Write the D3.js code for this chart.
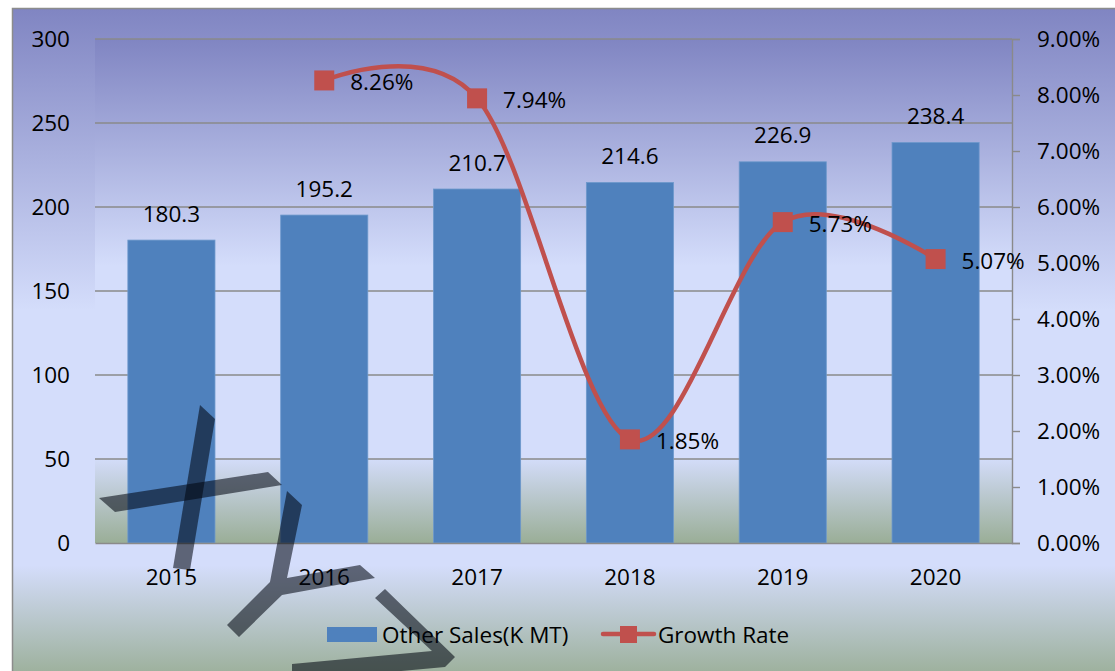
<!DOCTYPE html>
<html lang="en">
<head>
    <meta charset="UTF-8">
    <title>Other Sales and Growth Rate</title>
    <script src="https://d3js.org/d3.v7.min.js"></script>
    <style>
        body { margin: 0; background: #fff; }
        svg text { font-family: "Open Sans", "DejaVu Sans", sans-serif; font-size: 22.5px; fill: #000; }
    </style>
</head>
<body>
<div id="chart"></div>
<script type="text/javascript">
    // chart data
    const years = ["2015", "2016", "2017", "2018", "2019", "2020"];
    const sales = [180.3, 195.2, 210.7, 214.6, 226.9, 238.4];
    const growth = [null, 0.0826, 0.0794, 0.0185, 0.0573, 0.0507];
    const leftTicks = [0, 50, 100, 150, 200, 250, 300];
    const rightTicks = [0, 0.01, 0.02, 0.03, 0.04, 0.05, 0.06, 0.07, 0.08, 0.09];
    const seriesNames = ["Other Sales(K MT)", "Growth Rate"];

    // watermark strokes (decoration, not data)
    const watermark = [
        [[200,405],[215,419],[190,570],[173,568]],
        [[99,498],[115,512],[282,485],[268,472]],
        [[287,491],[302,505],[287,578],[360,565],[375,578],[282,595],[239,637],[227,625],[270,582]],
        [[385,589],[455,657],[445,667],[292,681],[292,664],[432,651],[375,598]]
    ];

    const W = 1115, H = 671;
    const plot = {left: 95, right: 1012, top: 39, bottom: 543};
    const blue = "#4f81bd", red = "#c0504d", grid = "#8a8a8a";

    const svg = d3.select("#chart").append("svg")
        .attr("width", W).attr("height", H);

    const defs = svg.append("defs");
    function bgGradient(id) {
        const g = defs.append("linearGradient").attr("id", id)
            .attr("x1", 0).attr("y1", 0).attr("x2", 0).attr("y2", 1);
        g.append("stop").attr("offset", "0%").attr("stop-color", "#8085c2");
        g.append("stop").attr("offset", "45%").attr("stop-color", "#d4ddfb");
        g.append("stop").attr("offset", "83%").attr("stop-color", "#d4ddfb");
        g.append("stop").attr("offset", "100%").attr("stop-color", "#9aae97");
    }
    bgGradient("chartBg");
    bgGradient("plotBg");

    // chart area
    svg.append("rect")
        .attr("x", 12.5).attr("y", 8.5)
        .attr("width", W).attr("height", H)
        .attr("fill", "url(#chartBg)")
        .attr("stroke", "#8c8c8c").attr("stroke-width", 1.5);

    // plot area
    svg.append("rect")
        .attr("x", plot.left).attr("y", plot.top)
        .attr("width", plot.right - plot.left).attr("height", plot.bottom - plot.top)
        .attr("fill", "url(#plotBg)");

    const x = d3.scaleBand().domain(years)
        .range([plot.left, plot.right])
        .paddingInner(0.43).paddingOuter(0.215);
    const y = d3.scaleLinear().domain([0, 300]).range([plot.bottom, plot.top]);
    const y2 = d3.scaleLinear().domain([0, 0.09]).range([plot.bottom, plot.top]);

    // gridlines
    svg.append("g").selectAll("line")
        .data(leftTicks.filter(d => d > 0))
        .join("line")
        .attr("x1", plot.left).attr("x2", plot.right)
        .attr("y1", d => y(d)).attr("y2", d => y(d))
        .attr("stroke", grid).attr("stroke-width", 1.4);

    // bars
    svg.append("g").selectAll("rect")
        .data(sales)
        .join("rect")
        .attr("x", (d, i) => x(years[i]))
        .attr("y", d => y(d))
        .attr("width", x.bandwidth())
        .attr("height", d => y(0) - y(d))
        .attr("fill", blue)
        .attr("stroke", "#6d98cb").attr("stroke-width", 0.8);

    svg.append("g").selectAll("text")
        .data(sales)
        .join("text")
        .attr("x", (d, i) => x(years[i]) + x.bandwidth() / 2)
        .attr("y", d => y(d) - 27)
        .attr("text-anchor", "middle")
        .attr("dominant-baseline", "central")
        .text(d => d.toFixed(1));

    // axes
    const axisL = svg.append("g")
        .attr("transform", `translate(${plot.left},0)`)
        .call(d3.axisLeft(y).tickValues(leftTicks).tickSize(0).tickPadding(25));
    axisL.select(".domain").remove();

    const axisR = svg.append("g")
        .attr("transform", `translate(${plot.right},0)`)
        .call(d3.axisRight(y2).tickValues(rightTicks).tickSize(8).tickPadding(17)
            .tickFormat(d3.format(".2%")));
    axisR.select(".domain").attr("stroke", grid).attr("stroke-width", 1.4);
    axisR.selectAll(".tick line").attr("stroke", grid).attr("stroke-width", 1.4);

    const axisB = svg.append("g")
        .attr("transform", `translate(0,${plot.bottom})`)
        .call(d3.axisBottom(x).tickSize(0).tickPadding(35));
    axisB.select(".domain").attr("stroke", grid).attr("stroke-width", 1.6);

    svg.selectAll(".tick text")
        .attr("font-family", null).attr("font-size", null).attr("fill", "#000");
    axisB.selectAll(".tick text").attr("dy", "0.32em");

    // growth line
    const pts = growth.map((g, i) => ({year: years[i], g})).filter(d => d.g !== null);
    const line = d3.line()
        .x(d => x(d.year) + x.bandwidth() / 2)
        .y(d => y2(d.g))
        .curve(d3.curveCardinal.tension(0));

    svg.append("path")
        .datum(pts)
        .attr("fill", "none")
        .attr("stroke", red).attr("stroke-width", 4.5)
        .attr("stroke-linecap", "round")
        .attr("d", line);

    const ms = 20;
    svg.append("g").selectAll("rect")
        .data(pts)
        .join("rect")
        .attr("x", d => x(d.year) + x.bandwidth() / 2 - ms / 2)
        .attr("y", d => y2(d.g) - ms / 2)
        .attr("width", ms).attr("height", ms)
        .attr("fill", red);

    svg.append("g").selectAll("text")
        .data(pts)
        .join("text")
        .attr("x", d => x(d.year) + x.bandwidth() / 2 + 26)
        .attr("y", d => y2(d.g) + 1)
        .attr("dominant-baseline", "central")
        .text(d => d3.format(".2%")(d.g));

    // legend
    const legend = svg.append("g");
    legend.append("rect")
        .attr("x", 327).attr("y", 627).attr("width", 50).attr("height", 15)
        .attr("fill", blue);
    legend.append("text")
        .attr("x", 382).attr("y", 634).attr("dominant-baseline", "central")
        .text(seriesNames[0]);
    legend.append("line")
        .attr("x1", 603).attr("x2", 654).attr("y1", 634).attr("y2", 634)
        .attr("stroke", red).attr("stroke-width", 4.5).attr("stroke-linecap", "round");
    legend.append("rect")
        .attr("x", 620).attr("y", 626).attr("width", 17).attr("height", 17)
        .attr("fill", red);
    legend.append("text")
        .attr("x", 658).attr("y", 634).attr("dominant-baseline", "central")
        .text(seriesNames[1]);

    // watermark overlay
    svg.append("g").selectAll("polygon")
        .data(watermark)
        .join("polygon")
        .attr("points", d => d.map(p => p.join(",")).join(" "))
        .attr("fill", "rgba(0,6,16,0.56)");
</script>
</body>
</html>
